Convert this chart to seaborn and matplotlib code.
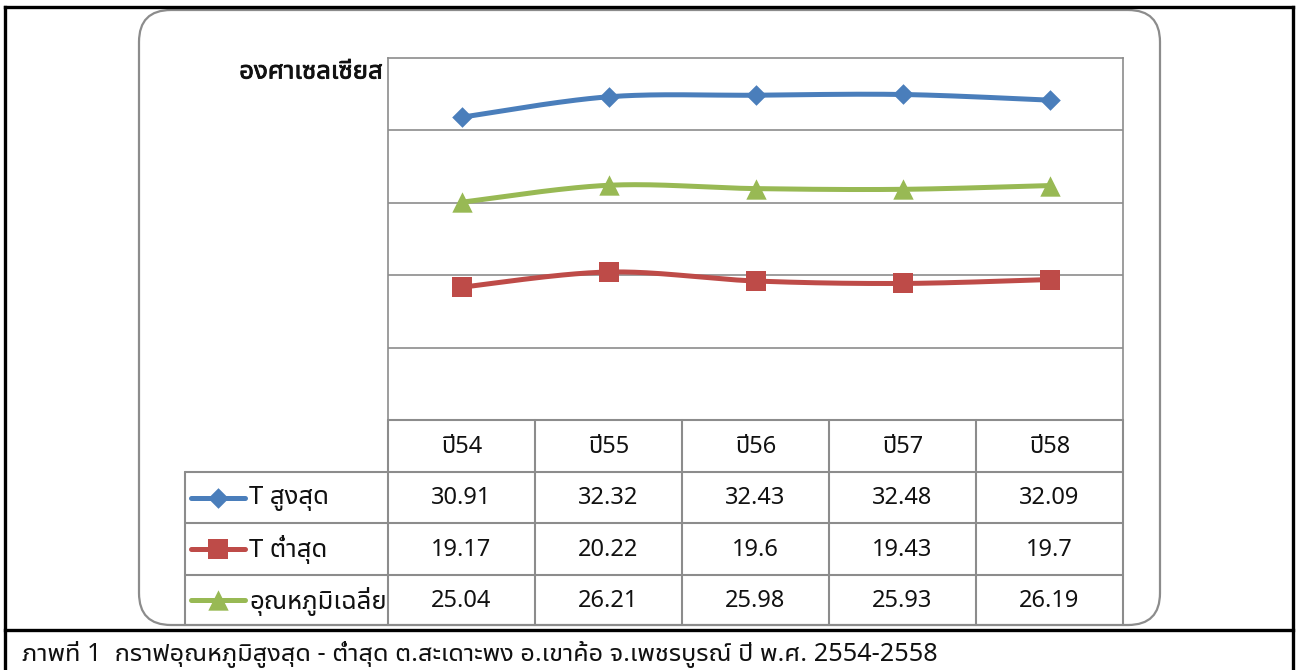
import numpy as np
import pandas as pd
import matplotlib
matplotlib.use("Agg")
import matplotlib.pyplot as plt
import seaborn as sns
from matplotlib import font_manager as fm
from matplotlib import patheffects as pe
from matplotlib.patches import FancyBboxPatch
from matplotlib.lines import Line2D

# ---- data -------------------------------------------------------------
years = ["ปี54", "ปี55", "ปี56", "ปี57", "ปี58"]
t_max = [30.91, 32.32, 32.43, 32.48, 32.09]
t_min = [19.17, 20.22, 19.6, 19.43, 19.7]
t_avg = [25.04, 26.21, 25.98, 25.93, 26.19]
series_names = ["T สูงสุด", "T ต่ำสุด", "อุณหภูมิเฉลี่ย"]
y_title = "องศาเซลเซียส"
caption = "ภาพที่ 1  กราฟอุณหภูมิสูงสุด - ต่ำสุด ต.สะเดาะพง อ.เขาค้อ จ.เพชรบูรณ์ ปี พ.ศ. 2554-2558"

colors = ["#4A7EBB", "#BE4B48", "#98B954"]
markers = ["D", "s", "^"]
marker_area = [110, 205, 215]


def find_thai_font():
    """Return the name of an installed family that covers Thai glyphs."""
    try:
        from fontTools.ttLib import TTFont
    except Exception:
        return None
    sample = "องศาเซลเซียสภาพที่ปีต่ำ"
    found = []
    for f in fm.fontManager.ttflist:
        try:
            tt = TTFont(f.fname, fontNumber=0, lazy=True)
            cmap = tt.getBestCmap() or {}
            if all(ord(c) in cmap for c in sample):
                found.append(f.name)
        except Exception:
            continue
    if not found:
        return None
    pref = ["Noto Sans Thai UI", "Noto Sans Thai", "Noto Sans", "Tahoma",
            "Leelawadee UI", "Loma", "Garuda", "Sarabun"]
    for p in pref:
        if p in found:
            return p
    return sorted(found)[0]


sns.set_theme(style="white")
thai = find_thai_font()
families = ([thai] if thai else []) + ["Noto Sans", "DejaVu Sans"]
plt.rcParams["font.family"] = families

W, H = 1299, 670
fig = plt.figure(figsize=(W / 100, H / 100), dpi=100)

# background layer in pixel units (y grows downward)
bg = fig.add_axes([0, 0, 1, 1], zorder=0)
bg.set_xlim(0, W)
bg.set_ylim(H, 0)
bg.axis("off")

frame_kw = dict(color="black", lw=2.4, solid_capstyle="projecting")
bg.add_line(Line2D([5, 1293], [7, 7], **frame_kw))
bg.add_line(Line2D([5, 5], [7, 670], **frame_kw))
bg.add_line(Line2D([1293, 1293], [7, 670], **frame_kw))
bg.add_line(Line2D([5, 1293], [630, 630], **frame_kw))

bg.add_patch(FancyBboxPatch((139, 10), 1160 - 139, 625 - 10,
                            boxstyle="round,pad=0,rounding_size=32",
                            fc="white", ec="#8C8C8C", lw=1.6))

# plot area
px0, px1, py0, py1 = 388, 1123, 58, 420
ax = fig.add_axes([px0 / W, 1 - py1 / H, (px1 - px0) / W, (py1 - py0) / H], zorder=2)
ax.patch.set_alpha(0)
ax.set_xlim(-0.5, len(years) - 0.5)
ax.set_ylim(10, 35)
ax.set_yticks([15, 20, 25, 30])
ax.set_xticks([])
ax.tick_params(left=False, labelleft=False, bottom=False, labelbottom=False)
ax.yaxis.grid(True, color="#8C8C8C", lw=1.2)
ax.xaxis.grid(False)
for s in ax.spines.values():
    s.set_color("#8C8C8C")
    s.set_linewidth(1.2)


def smooth(xs, ys, n=40):
    """Bezier smoothing through every point (Catmull-Rom style)."""
    pts = np.column_stack([xs, ys]).astype(float)
    ext = np.vstack([pts[0], pts, pts[-1]])
    segs = []
    t = np.linspace(0, 1, n)[:, None]
    for i in range(len(pts) - 1):
        p0, p1, p2, p3 = ext[i], ext[i + 1], ext[i + 2], ext[i + 3]
        c1 = p1 + (p2 - p0) / 6
        c2 = p2 - (p3 - p1) / 6
        seg = (1 - t) ** 3 * p1 + 3 * (1 - t) ** 2 * t * c1 + 3 * (1 - t) * t ** 2 * c2 + t ** 3 * p2
        segs.append(seg if i == 0 else seg[1:])
    return np.vstack(segs)


line_w = 3.6
xpos = np.arange(len(years))
for vals, name, col, mk, ms in zip([t_max, t_min, t_avg], series_names, colors, markers, marker_area):
    curve = smooth(xpos, vals)
    cdf = pd.DataFrame({"x": curve[:, 0], "y": curve[:, 1]})
    sns.lineplot(data=cdf, x="x", y="y", sort=False, estimator=None, ax=ax,
                 color=col, lw=line_w, legend=False)
    pdf = pd.DataFrame({"x": xpos, "y": vals})
    sns.scatterplot(data=pdf, x="x", y="y", ax=ax, marker=mk, s=ms, color=col,
                    edgecolor=col, linewidth=0, legend=False, zorder=5)
ax.set_xlabel("")
ax.set_ylabel("")

txt_col = "#111111"
bold = [pe.withStroke(linewidth=0.6, foreground=txt_col)]

# axis title
bg.text(383, 72, y_title, ha="right", va="center", fontsize=18.5, fontweight="bold",
        color=txt_col, path_effects=bold)

# data table
grid = "#8C8C8C"
col_w = (px1 - px0) / len(years)
rows_y = [420, 472, 523, 575, 625]
tkw = dict(color=grid, lw=1.5)
bg.add_line(Line2D([px0, px1], [420, 420], **tkw))
for y in rows_y[1:-1]:
    bg.add_line(Line2D([185, px1], [y, y], **tkw))
bg.add_line(Line2D([185, 185], [472, 625], **tkw))
for i in range(len(years) + 1):
    x = px0 + i * col_w
    bg.add_line(Line2D([x, x], [420, 625], **tkw))

fs = 17
for i, lab in enumerate(years):
    bg.text(px0 + (i + 0.5) * col_w, 447, lab, ha="center", va="center", fontsize=fs, color=txt_col)

for r, (vals, name, col, mk, ms) in enumerate(zip([t_max, t_min, t_avg], series_names, colors, markers, marker_area)):
    yc = (rows_y[r + 1] + rows_y[r + 2]) / 2
    bg.add_line(Line2D([191, 245], [yc, yc], color=col, lw=line_w, solid_capstyle="round"))
    bg.scatter([218], [yc], marker=mk, s=ms, color=col, linewidths=0, zorder=3)
    bg.text(249, yc + 1, name, ha="left", va="center", fontsize=18.5, color=txt_col)
    for i, v in enumerate(vals):
        bg.text(px0 + (i + 0.5) * col_w, yc + 1, f"{v:g}", ha="center", va="center",
                fontsize=fs, color=txt_col)

bg.text(22, 655, caption, ha="left", va="center", fontsize=18.2, color=txt_col)

fig.savefig("out.png", dpi=100)
